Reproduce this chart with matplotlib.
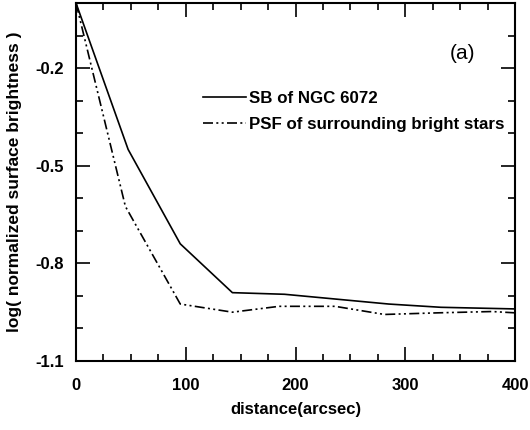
import numpy as np
import matplotlib.pyplot as plt
from matplotlib.ticker import MultipleLocator

plt.rcParams['font.family'] = ['Liberation Sans', 'DejaVu Sans']
plt.rcParams['axes.unicode_minus'] = False

# Radial profiles
distance = [0, 47.5, 95, 142.5, 190, 237.5, 285, 332.5, 400]
sb_ngc6072 = [0.0, -0.45, -0.74, -0.89, -0.895, -0.91, -0.925, -0.935, -0.94]
psf_distance = [0, 45, 95, 142.5, 185, 236, 281, 330, 379, 400]
psf_stars = [0.0, -0.625, -0.925, -0.95, -0.932, -0.932, -0.957, -0.952, -0.948, -0.952]

fig = plt.figure(figsize=(5.3, 4.3), dpi=100)
ax = fig.add_axes([76 / 530, 1 - 361 / 430, (515 - 76) / 530, (361 - 3) / 430])

ax.plot(distance, sb_ngc6072, color='black', lw=1.2, label='SB of NGC 6072')
ax.plot(psf_distance, psf_stars, color='black', lw=1.2,
        linestyle=(0, (6, 2, 1.2, 2, 1.2, 2)),
        label='PSF of surrounding bright stars')

ax.set_xlim(0, 400)
ax.set_ylim(-1.1, 0.0)
ax.xaxis.set_major_locator(MultipleLocator(100))
ax.xaxis.set_minor_locator(MultipleLocator(25))
ax.set_yticks([-1.1, -0.8, -0.5, -0.2])
ax.yaxis.set_minor_locator(MultipleLocator(0.1))
ax.tick_params(which='both', direction='in', top=True, right=True, width=1.2)
ax.tick_params(which='major', length=10, labelsize=12)
ax.tick_params(axis='x', which='major', pad=12)
ax.tick_params(axis='y', which='major', pad=9)
ax.tick_params(which='minor', length=5)
for lab in ax.get_xticklabels() + ax.get_yticklabels():
    lab.set_fontweight('bold')
for sp in ax.spines.values():
    sp.set_linewidth(1.5)

ax.set_xlabel('distance(arcsec)', fontsize=12, fontweight='bold', labelpad=7)
ax.set_ylabel('log( normalized surface brightness )', fontsize=12.5,
              fontweight='bold', labelpad=9)

ax.legend(loc='upper left', bbox_to_anchor=(0.29, 0.753), frameon=False,
          prop={'weight': 'bold', 'size': 12.2}, handlelength=2.5,
          handletextpad=0.2, labelspacing=0.6, borderpad=0,
          borderaxespad=0)
ax.text(0.88, 0.86, '(a)', transform=ax.transAxes, fontsize=15,
        ha='center', va='center')

fig.savefig('out.png', dpi=100)
